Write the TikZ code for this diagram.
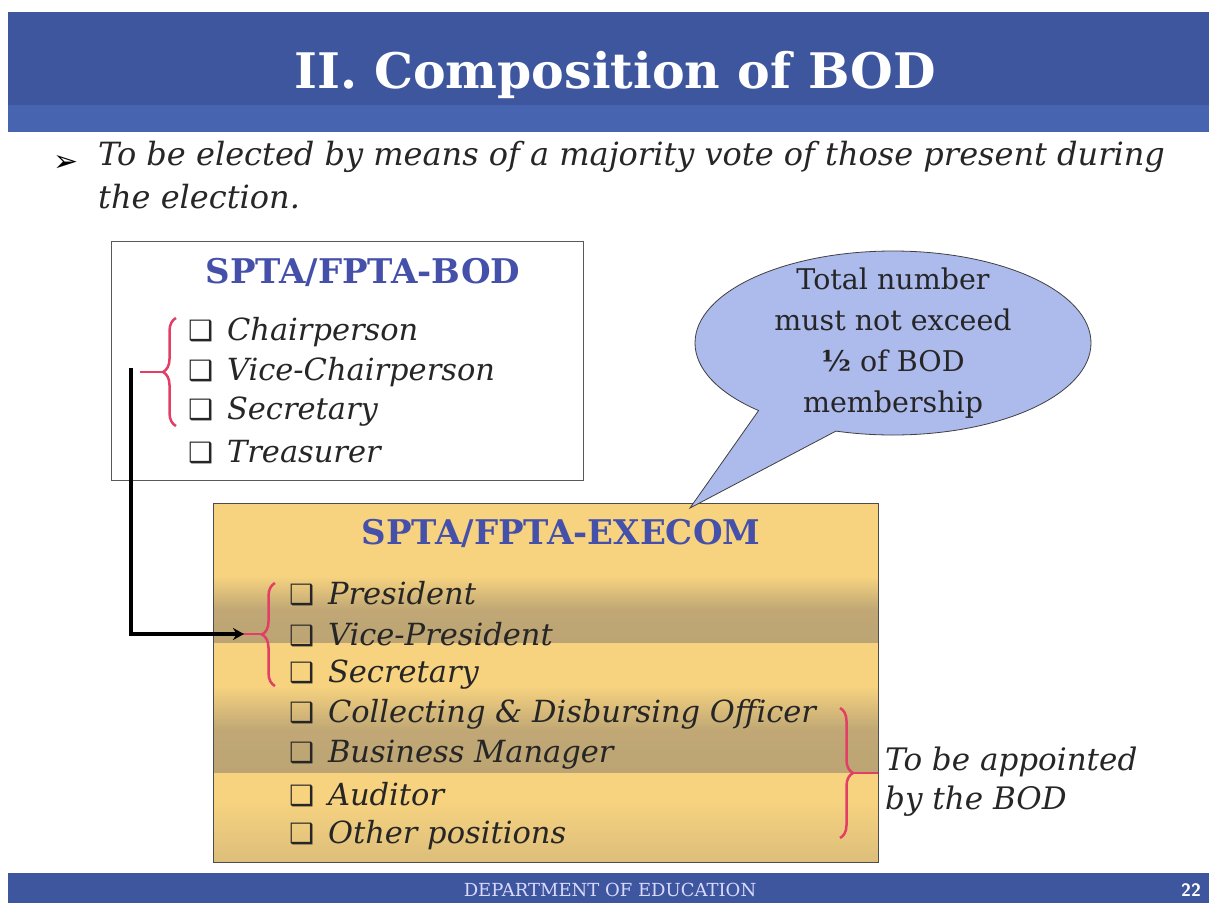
\documentclass[tikz,border=0pt]{standalone}
\usepackage{fontspec}
\setmainfont{DejaVu Serif}
\newfontfamily\symfont{DejaVu Sans}
\usetikzlibrary{arrows.meta,shapes.callouts,decorations.pathreplacing}
\definecolor{hdrblue}{RGB}{62,86,158}
\definecolor{hdrband}{RGB}{70,100,176}
\definecolor{ttlblue}{RGB}{68,80,170}
\definecolor{execylw}{RGB}{247,211,128}
\definecolor{exectan}{RGB}{188,164,116}
\definecolor{bracered}{RGB}{226,62,102}
\definecolor{bubblue}{RGB}{172,186,236}
\tikzset{
  item/.style={anchor=west, inner sep=0pt, font=\fontsize{30.5}{34}\selectfont\itshape, text=black!85},
  boxtitle/.style={font=\fontsize{34}{38}\selectfont\bfseries, text=ttlblue},
  redbrace/.style={draw=bracered, line width=2.5pt, decorate, decoration={brace, amplitude=13pt}},
  bracetick/.style={draw=bracered, line width=2.5pt},
}
\newcommand\chk{{\symfont\upshape\fontsize{28}{30}\selectfont ❑}\hspace{0.45em}}
\begin{document}
\begin{tikzpicture}[x=1pt, y=-1pt]
\useasboundingbox (0,0) rectangle (1209,903);
\fill[white] (0,0) rectangle (1209,903);
% header and footer bands
\fill[hdrblue] (8,12) rectangle (1209,105);
\fill[hdrband] (8,105) rectangle (1209,132);
\fill[hdrblue] (8,873) rectangle (1209,903);
\node[font=\fontsize{49}{54}\selectfont\bfseries, text=white] (title) at (615,75) {II. Composition of BOD};
\node[font=\fontsize{18}{20}\selectfont, text=white!85!blue] (dept) at (610,890) {DEPARTMENT OF EDUCATION};
\node[font=\sffamily\bfseries\fontsize{18}{20}\selectfont, text=white] (page) at (1191,890) {22};
% bullet
\node[font=\symfont\fontsize{30}{32}\selectfont] (arr) at (66,163) {➢};
\node[anchor=north west, align=left, inner sep=0pt, font=\fontsize{32}{43}\selectfont\itshape, text=black!85] (intro) at (98,141)
  {To be elected by means of a majority vote of those present during\\the election.};
% BOD box
\node[draw=black!65, line width=0.8pt, minimum width=472, minimum height=239, anchor=north west] (bod) at (111,241) {};
\node[boxtitle] (bodttl) at (363,272) {SPTA/FPTA-BOD};
\foreach [count=\i] \t in {Chairperson,Vice-Chairperson,Secretary,Treasurer}
  \node[item] (b\i) at (188,{332+40*(\i-1)}) {\chk\t};
% EXECOM box
\fill[execylw] (213,503) rectangle (878,862);
\fill[top color=execylw, bottom color=exectan, middle color=exectan!92!execylw] (213,576) rectangle (878,642);
\fill[top color=execylw, bottom color=exectan, middle color=exectan!92!execylw] (213,686) rectangle (878,772);
\fill[top color=execylw, bottom color=exectan!45!execylw] (213,800) rectangle (878,862);
\node[draw=black!70, line width=0.8pt, minimum width=665, minimum height=359, anchor=north west] (execom) at (213,503) {};
\node[boxtitle] (exttl) at (561,533) {SPTA/FPTA-EXECOM};
\foreach [count=\i] \t in {President,Vice-President,Secretary,Collecting \& Disbursing Officer,Business Manager,Auditor,Other positions}
  \node[item] (e\i) at (289,{594+40.2*(\i-1)}) {\chk\t};
% braces
\draw[redbrace] (176,426) -- (176,318);
\draw[bracetick] (163,372) -- (140,372);
\draw[redbrace] (275,686) -- (275,583);
\draw[bracetick] (262,634) -- (242,634);
\draw[redbrace] (840,708) -- (840,838);
\draw[bracetick] (853,773) -- (878,773);
\node[anchor=west, align=left, inner sep=0pt, font=\fontsize{31}{39}\selectfont\itshape, text=black!85] (appt) at (885,782)
  {To be appointed\\by the BOD};
% connector
\coordinate (bodtip) at (131,368);
\coordinate (exectip) at (244,634);
\draw[line width=3.5pt, -{Stealth[length=11pt,width=12pt]}] (bodtip) |- (exectip);
% speech bubble
\node[ellipse callout, draw=black!75, fill=bubblue, line width=0.8pt, inner sep=0pt, minimum width=396, minimum height=184,
      callout absolute pointer={(690,508)}, callout pointer arc=26] (bubble) at (893,343) {};
\node[align=center, font=\fontsize{28.5}{41}\selectfont, text=black!85] (bubtext) at (bubble.center)
  {Total number\\must not exceed\\{\bfseries ½} of BOD\\membership};
\end{tikzpicture}
\end{document}
